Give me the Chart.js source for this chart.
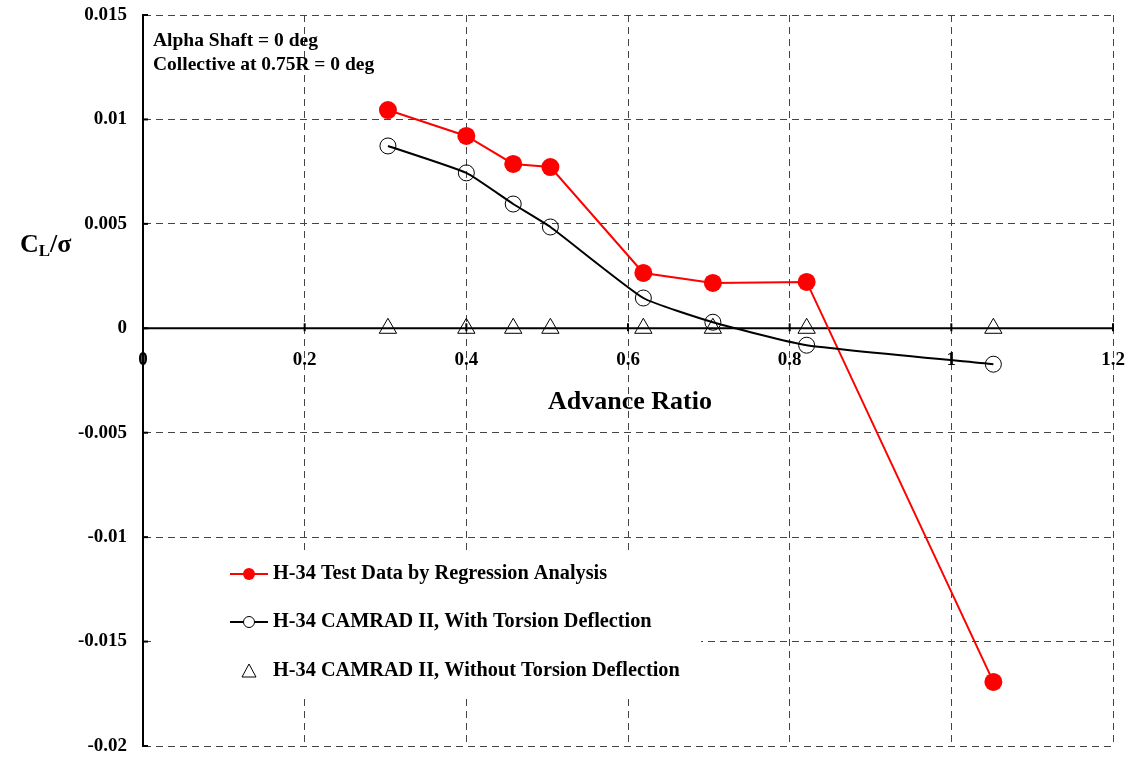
<!DOCTYPE html>
<html>
<head>
  <meta charset="UTF-8">
  <title>H-34 CL/sigma vs Advance Ratio</title>
  <script src="https://cdn.jsdelivr.net/npm/chart.js@4.4.0/dist/chart.umd.min.js"></script>
  <style>
    body { margin: 0; background: #fff; }
    #wrap { width: 1132px; height: 759px; position: relative; }
  </style>
</head>
<body>
<div id="wrap"><canvas id="myChart"></canvas></div>
<script>
  // advance ratio of each test point
  var advanceRatio = [0.303, 0.40, 0.458, 0.504, 0.619, 0.705, 0.821, 1.052];
  // C_L / sigma
  var testData     = [0.01045, 0.00921, 0.00787, 0.00772, 0.00265, 0.00217, 0.00222, -0.01693];
  var withTorsion  = [0.00873, 0.00744, 0.00595, 0.00485, 0.00145, 0.00029, -0.00081, -0.00172];
  var noTorsion    = [0, 0, 0, 0, 0, 0, 0, 0];

  var seriesNames = [
    "H-34 Test Data by Regression Analysis",
    "H-34 CAMRAD II, With Torsion Deflection",
    "H-34 CAMRAD II, Without Torsion Deflection"
  ];
  var xTicks = [0, 0.2, 0.4, 0.6, 0.8, 1, 1.2];
  var noteLines = ["Alpha Shaft = 0 deg", "Collective at 0.75R = 0 deg"];

  var FONT = "'Liberation Serif', 'Times New Roman', serif";

  function pts(ys) {
    return advanceRatio.map(function(x, i) { return { x: x, y: ys[i] }; });
  }

  function fmt(v) {
    return String(Math.round(v * 1000) / 1000);
  }

  // draws zero line, x labels, titles, note and the legend box
  var extras = {
    id: "extras",
    beforeDatasetsDraw: function(chart) {
      var ctx = chart.ctx, xs = chart.scales.x, ys = chart.scales.y, a = chart.chartArea;
      var y0 = ys.getPixelForValue(0);
      ctx.save();

      // legend box covers grid
      ctx.fillStyle = "#fff";
      ctx.fillRect(156, 552, 545, 144);

      // zero line
      ctx.strokeStyle = "#000";
      ctx.lineWidth = 2;
      ctx.beginPath();
      ctx.moveTo(a.left, y0);
      ctx.lineTo(a.right, y0);
      ctx.stroke();

      // x tick marks + labels on zero line
      ctx.font = "bold 19px " + FONT;
      ctx.fillStyle = "#000";
      ctx.textAlign = "center";
      ctx.textBaseline = "middle";
      xTicks.forEach(function(t) {
        var px = xs.getPixelForValue(t);
        ctx.beginPath();
        ctx.moveTo(px, y0 - 5);
        ctx.lineTo(px, y0 + 3);
        ctx.stroke();
        ctx.fillText(fmt(t), px, y0 + 32);
      });

      // y tick marks
      ys.ticks.forEach(function(t) {
        var py = ys.getPixelForValue(t.value);
        ctx.beginPath();
        ctx.moveTo(a.left, py);
        ctx.lineTo(a.left + 5, py);
        ctx.stroke();
      });

      // axis titles
      ctx.font = "bold 26px " + FONT;
      ctx.fillText("Advance Ratio", (a.left + a.right) / 2 + 2, y0 + 74);

      ctx.textAlign = "left";
      ctx.font = "bold 26px " + FONT;
      ctx.fillText("C", 20, 245);
      var cw = ctx.measureText("C").width;
      ctx.font = "bold 17px " + FONT;
      ctx.fillText("L", 20 + cw, 252);
      var lw = ctx.measureText("L").width;
      ctx.font = "bold 26px " + FONT;
      ctx.fillText("/\u03c3", 20 + cw + lw, 245);

      // note
      ctx.font = "bold 19.5px " + FONT;
      ctx.fillText(noteLines[0], 153, 41);
      ctx.fillText(noteLines[1], 153, 65);

      // legend
      var lx = 249, rows = [574, 622, 671];
      ctx.font = "bold 20.3px " + FONT;
      ctx.fillStyle = "#000";
      seriesNames.forEach(function(n, i) {
        ctx.fillText(n, 273, rows[i]);
      });
      ctx.lineWidth = 2;
      ctx.strokeStyle = "#ff0000";
      ctx.beginPath(); ctx.moveTo(230, rows[0]); ctx.lineTo(268, rows[0]); ctx.stroke();
      ctx.fillStyle = "#ff0000";
      ctx.beginPath(); ctx.arc(lx, rows[0], 6, 0, Math.PI * 2); ctx.fill();
      ctx.strokeStyle = "#000";
      ctx.beginPath(); ctx.moveTo(230, rows[1]); ctx.lineTo(268, rows[1]); ctx.stroke();
      ctx.lineWidth = 1;
      ctx.fillStyle = "#fff";
      ctx.beginPath(); ctx.arc(lx, rows[1], 5.5, 0, Math.PI * 2); ctx.fill(); ctx.stroke();
      ctx.beginPath();
      ctx.moveTo(lx, rows[2] - 7);
      ctx.lineTo(lx + 7, rows[2] + 6);
      ctx.lineTo(lx - 7, rows[2] + 6);
      ctx.closePath();
      ctx.stroke();

      ctx.restore();
    }
  };

  new Chart(document.getElementById("myChart"), {
    type: "scatter",
    data: {
      datasets: [
        {
          label: seriesNames[2],
          data: pts(noTorsion),
          showLine: false,
          pointStyle: "triangle",
          pointRadius: 10,
          pointBackgroundColor: "rgba(0,0,0,0)",
          pointBorderColor: "#000",
          pointBorderWidth: 1
        },
        {
          label: seriesNames[1],
          data: pts(withTorsion),
          showLine: true,
          tension: 0.15,
          borderColor: "#000",
          borderWidth: 2,
          pointRadius: 8,
          pointBackgroundColor: "rgba(0,0,0,0)",
          pointBorderColor: "#000",
          pointBorderWidth: 1
        },
        {
          label: seriesNames[0],
          data: pts(testData),
          showLine: true,
          borderColor: "#ff0000",
          borderWidth: 2,
          pointRadius: 9,
          pointBackgroundColor: "#ff0000",
          pointBorderColor: "#ff0000",
          pointBorderWidth: 0
        }
      ]
    },
    options: {
      responsive: true,
      maintainAspectRatio: false,
      animation: false,
      layout: { padding: { left: 0, top: 15, right: 19, bottom: 13 } },
      plugins: {
        legend: { display: false },
        tooltip: { enabled: false }
      },
      scales: {
        x: {
          type: "linear",
          min: 0,
          max: 1.2,
          ticks: { display: false, stepSize: 0.2 },
          grid: {
            drawTicks: false,
            color: function(c) { return c.tick && c.tick.value === 0 ? "rgba(0,0,0,0)" : "#444"; },
            lineWidth: 1
          },
          border: { display: false, dash: [7, 5] },
          afterFit: function(s) { s.height = 0; s.paddingLeft = 0; s.paddingRight = 0; }
        },
        y: {
          min: -0.02,
          max: 0.015,
          ticks: {
            stepSize: 0.005,
            padding: 16,
            color: "#000",
            font: { family: FONT, size: 19, weight: "bold" },
            callback: function(v) { return fmt(v); }
          },
          grid: {
            drawTicks: false,
            color: function(c) { return c.tick && Math.abs(c.tick.value) < 1e-9 ? "rgba(0,0,0,0)" : "#444"; },
            lineWidth: 1
          },
          border: { display: true, color: "#000", width: 2, dash: [7, 5] },
          afterFit: function(s) { s.width = 143; s.paddingTop = 0; s.paddingBottom = 0; }
        }
      }
    },
    plugins: [extras]
  });
</script>
</body>
</html>
